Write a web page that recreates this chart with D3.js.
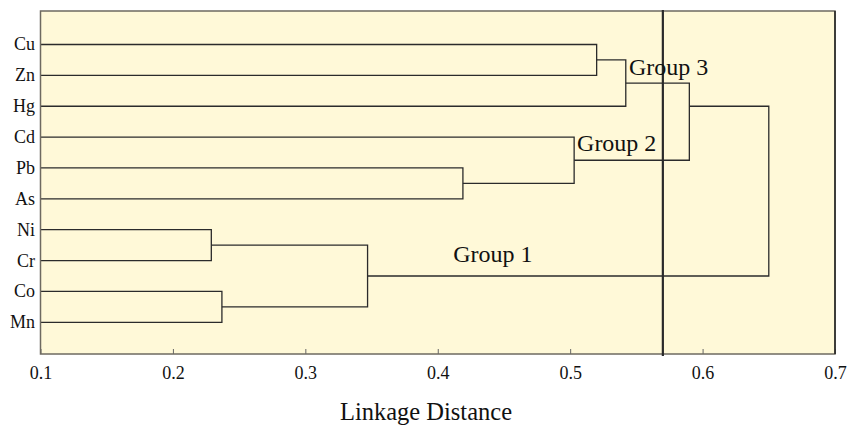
<!DOCTYPE html>
<html>
<head>
<meta charset="utf-8">
<script src="https://cdn.jsdelivr.net/npm/d3@7"></script>
<style>
  body { margin: 0; background: #fff; }
</style>
</head>
<body>
<svg id="chart" width="858" height="427" style="font-family: 'Liberation Serif', 'DejaVu Serif', serif;"></svg>
<script>
// leaves, top to bottom
var leaves = ["Cu", "Zn", "Hg", "Cd", "Pb", "As", "Ni", "Cr", "Co", "Mn"];

// merges: children (leaf name or merge id) and linkage distance
// mergeAt = optional row where the stub is drawn
var mergeIds = ["m1", "m2", "m3", "m4", "m5", "m6", "m7", "m8", "m9"];
var mergeLeft = ["Cu", "m1", "Pb", "Cd", "m2", "Ni", "Co", "m6", "m5"];
var mergeRight = ["Zn", "Hg", "As", "m3", "m4", "Cr", "Mn", "m7", "m8"];
var mergeHeight = [0.520, 0.542, 0.419, 0.503, 0.590, 0.229, 0.237, 0.347, 0.650];
var mergeAt = [null, null, null, null, 2, null, null, null, null];

var cutOff = 0.57;
var xTicks = [0.1, 0.2, 0.3, 0.4, 0.5, 0.6, 0.7];

var groupNames = ["Group 3", "Group 2", "Group 1"];
var groupDist = [0.5444, 0.5052, 0.4117];
var groupRow = [1.0, 3.44, 7.06];

var svg = d3.select("#chart");
var pLeft = 40.5, pRight = 835, pTop = 11, pBottom = 354;
var serif = "'Liberation Serif', 'DejaVu Serif', serif";

var x = d3.scaleLinear().domain([0.1, 0.7]).range([pLeft, pRight]);
var y = d3.scaleLinear().domain([0, 9]).range([44.5, 322.3]);

svg.append("rect")
  .attr("x", pLeft).attr("y", pTop)
  .attr("width", pRight - pLeft).attr("height", pBottom - pTop)
  .attr("fill", "#fff9d8");

// node positions
var pos = {};
leaves.forEach(function(l, i) { pos[l] = { x: x(0.1), y: y(i) }; });

var g = svg.append("g")
  .attr("fill", "none")
  .attr("stroke", "#2b2b2b")
  .attr("stroke-width", 1.3);

mergeIds.forEach(function(id, i) {
  var a = pos[mergeLeft[i]], b = pos[mergeRight[i]];
  var hx = x(mergeHeight[i]);
  g.append("path").attr("d",
    "M" + a.x + "," + a.y + "H" + hx + "V" + b.y + "H" + b.x);
  var my = mergeAt[i] != null ? y(mergeAt[i]) : (a.y + b.y) / 2;
  pos[id] = { x: hx, y: my };
});

// axis (ticks inside)
var axis = d3.axisBottom(x).tickValues(xTicks).tickSize(-5).tickPadding(12)
  .tickFormat(d3.format(".1f"));
var ax = svg.append("g").attr("transform", "translate(0," + pBottom + ")").call(axis)
  .attr("font-family", serif).attr("font-size", 18);
ax.select(".domain").remove();
ax.selectAll("line").attr("stroke", "#666");
ax.selectAll("text").attr("fill", "#111");

// frame
svg.append("rect")
  .attr("x", pLeft).attr("y", pTop)
  .attr("width", pRight - pLeft).attr("height", pBottom - pTop)
  .attr("fill", "none").attr("stroke", "#6e6a60").attr("stroke-width", 1.5);
svg.append("line")
  .attr("x1", pRight).attr("x2", pRight).attr("y1", pTop).attr("y2", pBottom)
  .attr("stroke", "#222").attr("stroke-width", 1.5);

// cut-off line
svg.append("line")
  .attr("x1", x(cutOff)).attr("x2", x(cutOff))
  .attr("y1", pTop - 1).attr("y2", pBottom + 2)
  .attr("stroke", "#2a2a2a").attr("stroke-width", 2.2);

// leaf labels
svg.selectAll(".leaf").data(leaves).enter().append("text")
  .attr("class", "leaf")
  .attr("x", 35).attr("y", function(d, i) { return y(i); })
  .attr("dy", "0.33em")
  .attr("text-anchor", "end")
  .attr("font-size", 18)
  .attr("fill", "#111")
  .text(function(d) { return d; });

// group labels
svg.selectAll(".grp").data(groupNames).enter().append("text")
  .attr("class", "grp")
  .attr("x", function(d, i) { return x(groupDist[i]); })
  .attr("y", function(d, i) { return y(groupRow[i]); })
  .attr("font-size", 24)
  .attr("fill", "#111")
  .text(function(d) { return d; });

svg.append("text")
  .attr("x", 426).attr("y", 420)
  .attr("text-anchor", "middle")
  .attr("font-size", 24.5)
  .attr("fill", "#111")
  .text("Linkage Distance");
</script>
</body>
</html>
